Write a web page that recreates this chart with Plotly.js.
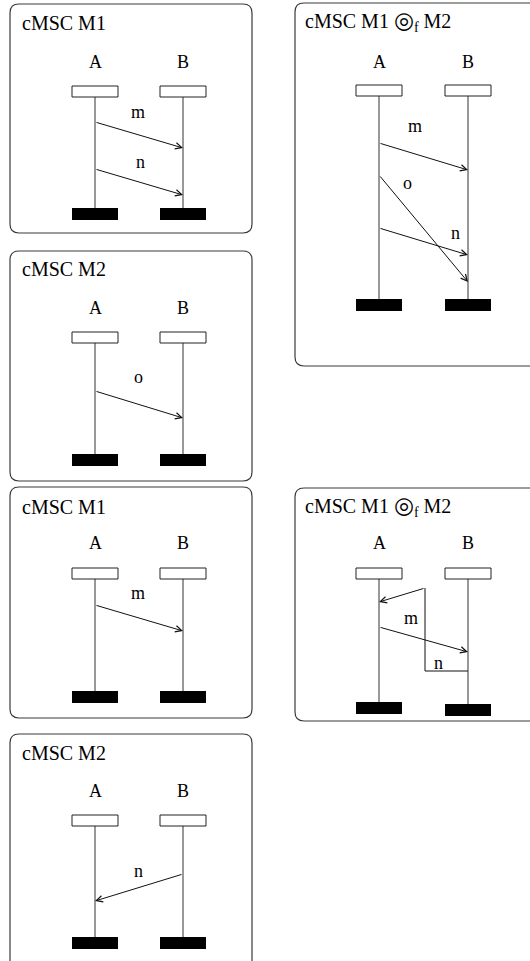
<!DOCTYPE html>
<html>
<head>
<meta charset="utf-8">
<script src="https://cdn.plot.ly/plotly-3.0.1.min.js"></script>
<style>html,body{margin:0;padding:0;background:#fff;}#chart{width:530px;height:961px;}</style>
</head>
<body>
<div id="chart"></div>
<script>
// ---- data ----
const panelTitles = ['cMSC M1', 'cMSC M2', 'cMSC M1', 'cMSC M2',
  'cMSC M1 <span style="font-size:23px">◎</span><sub><span style="color:#000">f</span></sub> M2',
  'cMSC M1 <span style="font-size:23px">◎</span><sub><span style="color:#000">f</span></sub> M2'];
const instanceNames = ['A', 'B'];
// messages: panel index, label, sender, receiver, send time, receive time
const msgPanel = [0, 0, 1, 2, 3, 4, 4, 4, 5];
const msgLabel = ['m', 'n', 'o', 'm', 'n', 'm', 'o', 'n', 'm'];
const msgFrom  = ['A', 'A', 'A', 'A', 'B', 'A', 'A', 'A', 'A'];
const msgTo    = ['B', 'B', 'B', 'B', 'A', 'B', 'B', 'B', 'B'];
const msgSend  = [122, 169, 391, 605, 874, 143, 175, 228, 627];
const msgRecv  = [148, 195, 418, 631, 901, 170, 282, 255, 652];
// the looped message n in the last panel: sent by B, routed left, up, then to A
const loopPanel = 5, loopLabel = 'n', loopSend = 671, loopTop = 588, loopRecv = 602;

// ---- geometry (layout only) ----
const G = {
  box: [[10,4,252,233],[10,251,252,481],[10,487,252,718],[10,734,252,980],[295,3,545,366],[295,488,545,721]],
  titleX: [20,20,20,20,303,303],
  titleY: [23,269,507,753,21,506],
  nameY: [62,308,543,791,62,543],
  lifeX: [[95,183],[95,183],[95,183],[95,183],[379,468],[379,468]],
  headTop: [86,332,568,815,85,568],
  endTop: [[208,208],[454,454],[691,691],[937,937],[299,299],[702,704]],
  labelX: [138,140,138,138,138,415,407,455,411],
  labelY: [112,162,377,593,871,126,183,233,618],
  loopBendX: 425, loopLabelX: 438, loopLabelY: 663,
  headW: 46, headH: 11, endH: 12, r: 9
};

const shapes = [];
const annotations = [];
const serif = 'Liberation Serif';

G.box.forEach((b, i) => {
  const [x0, y0, x1, y1] = b, r = G.r;
  shapes.push({
    type: 'path', xref: 'x', yref: 'y',
    path: `M${x0+r},${y0} H${x1-r} Q${x1},${y0} ${x1},${y0+r} V${y1-r} Q${x1},${y1} ${x1-r},${y1} H${x0+r} Q${x0},${y1} ${x0},${y1-r} V${y0+r} Q${x0},${y0} ${x0+r},${y0} Z`,
    line: {color: '#3a3a3a', width: 1.2}, fillcolor: 'rgba(0,0,0,0)'
  });
  annotations.push({x: G.titleX[i], y: G.titleY[i], xref: 'x', yref: 'y', text: panelTitles[i],
    showarrow: false, xanchor: 'left', yanchor: 'middle', font: {family: serif, size: 20, color: '#000'}});
  instanceNames.forEach((nm, k) => {
    const lx = G.lifeX[i][k];
    const ht = G.headTop[i], hb = ht + G.headH;
    const et = G.endTop[i][k];
    annotations.push({x: lx, y: G.nameY[i], xref: 'x', yref: 'y', text: nm, showarrow: false,
      xanchor: 'center', yanchor: 'middle', font: {family: serif, size: 18, color: '#000'}});
    shapes.push({type: 'line', xref: 'x', yref: 'y', x0: lx, x1: lx, y0: hb, y1: et,
      line: {color: '#333', width: 1}});
    shapes.push({type: 'rect', xref: 'x', yref: 'y', x0: lx - G.headW/2, x1: lx + G.headW/2, y0: ht, y1: hb,
      line: {color: '#222', width: 1}, fillcolor: '#fff'});
    shapes.push({type: 'rect', xref: 'x', yref: 'y', x0: lx - G.headW/2, x1: lx + G.headW/2, y0: et, y1: et + G.endH,
      line: {color: '#000', width: 0}, fillcolor: '#000'});
  });
});

msgLabel.forEach((lab, j) => {
  const p = msgPanel[j];
  const fx = G.lifeX[p][instanceNames.indexOf(msgFrom[j])];
  const tx = G.lifeX[p][instanceNames.indexOf(msgTo[j])];
  annotations.push({x: tx, y: msgRecv[j], ax: fx, ay: msgSend[j], xref: 'x', yref: 'y', axref: 'x', ayref: 'y',
    text: '', showarrow: true, arrowhead: 5, arrowsize: 1.25, arrowwidth: 1, arrowcolor: '#111', standoff: 0, startstandoff: 0});
  annotations.push({x: G.labelX[j], y: G.labelY[j], xref: 'x', yref: 'y', text: lab, showarrow: false,
    xanchor: 'center', yanchor: 'middle', font: {family: serif, size: 18, color: '#000'}});
});

// looped message
(function () {
  const bx = G.lifeX[loopPanel][1], ax = G.lifeX[loopPanel][0], vx = G.loopBendX;
  shapes.push({type: 'path', xref: 'x', yref: 'y',
    path: `M${bx},${loopSend} L${vx},${loopSend} L${vx},${loopTop}`, line: {color: '#111', width: 1}});
  annotations.push({x: ax, y: loopRecv, ax: vx, ay: loopTop, xref: 'x', yref: 'y', axref: 'x', ayref: 'y',
    text: '', showarrow: true, arrowhead: 5, arrowsize: 1.25, arrowwidth: 1, arrowcolor: '#111', standoff: 0, startstandoff: 0});
  annotations.push({x: G.loopLabelX, y: G.loopLabelY, xref: 'x', yref: 'y', text: loopLabel, showarrow: false,
    xanchor: 'center', yanchor: 'middle', font: {family: serif, size: 18, color: '#000'}});
})();

const layout = {
  width: 530, height: 961,
  margin: {l: 0, r: 0, t: 0, b: 0},
  paper_bgcolor: '#fff', plot_bgcolor: '#fff',
  font: {family: serif, color: '#000'},
  xaxis: {range: [0, 530], visible: false, fixedrange: true},
  yaxis: {range: [961, 0], visible: false, fixedrange: true},
  showlegend: false,
  shapes: shapes,
  annotations: annotations
};

Plotly.newPlot('chart', [{x: [], y: [], type: 'scatter', hoverinfo: 'skip'}], layout, {displayModeBar: false, staticPlot: true});
</script>
</body>
</html>
